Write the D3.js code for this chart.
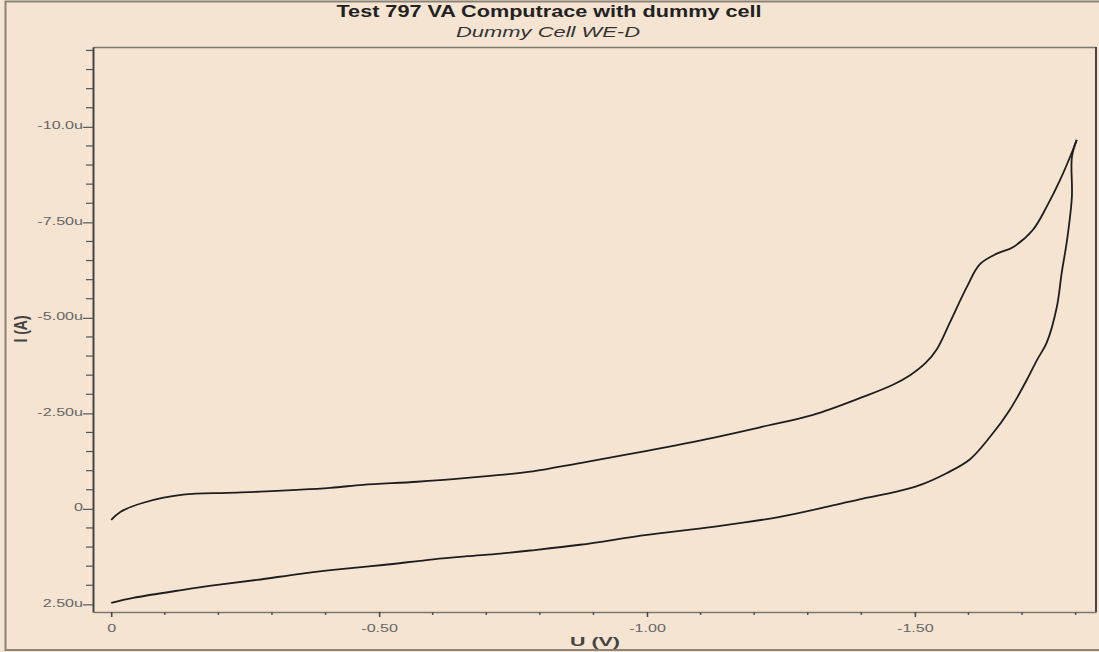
<!DOCTYPE html>
<html>
<head>
<meta charset="utf-8">
<script src="https://cdn.jsdelivr.net/npm/d3@7"></script>
<style>
  html, body { margin: 0; padding: 0; background: #f5e4d1; }
  svg { display: block; font-family: "Liberation Sans", Arial, sans-serif; }
</style>
</head>
<body>
<svg id="chart" width="1099" height="652"></svg>
<script>
// Cyclic voltammogram: forward scan (0 V → -1.80 V), then reverse scan back to 0 V.
// Potential in V, current in µA.
const forwardU = [0.00, -0.017, -0.060, -0.134, -0.216, -0.278, -0.409, -0.470, -0.571, -0.664,
  -0.726, -0.787, -0.875, -1.000, -1.123, -1.216, -1.310, -1.403, -1.459, -1.491,
  -1.520, -1.541, -1.565, -1.597, -1.621, -1.653, -1.683, -1.720, -1.746, -1.771, -1.795, -1.802];
const forwardI = [0.29, 0.08, -0.16, -0.37, -0.42, -0.45, -0.55, -0.63, -0.71, -0.81,
  -0.89, -0.98, -1.20, -1.52, -1.86, -2.15, -2.46, -2.93, -3.25, -3.50,
  -3.82, -4.18, -4.87, -5.81, -6.40, -6.68, -6.85, -7.30, -7.91, -8.61, -9.40, -9.66];

const reverseU = [-1.802, -1.793, -1.793, -1.784, -1.774, -1.765, -1.746, -1.728, -1.709, -1.677,
  -1.640, -1.603, -1.560, -1.509, -1.466, -1.403, -1.341, -1.248, -1.123, -1.000,
  -0.875, -0.782, -0.726, -0.664, -0.601, -0.507, -0.414, -0.353, -0.272, -0.198,
  -0.134, -0.041, 0.00];
const reverseI = [-9.66, -9.21, -8.17, -7.04, -6.18, -5.29, -4.35, -3.90, -3.38, -2.59,
  -1.88, -1.30, -0.94, -0.62, -0.45, -0.27, -0.07, 0.21, 0.47, 0.68,
  0.94, 1.09, 1.17, 1.24, 1.32, 1.47, 1.60, 1.70, 1.86, 1.99,
  2.12, 2.33, 2.46];

const xTickValues = [0, -0.5, -1.0, -1.5];
const xTickLabels = ["0", "-0.50", "-1.00", "-1.50"];
const yTickValues = [-10, -7.5, -5, -2.5, 0, 2.5];
const yTickLabels = ["-10.0u", "-7.50u", "-5.00u", "-2.50u", "0", "2.50u"];

const titleText = "Test 797 VA Computrace with dummy cell";
const subtitleText = "Dummy Cell WE-D";
const xLabel = "U (V)";
const yLabel = "I (A)";

const svg = d3.select("#chart");
const bg = "#f5e4d1";
const stretch = 1.4; // horizontal widening of the text glyphs

const plot = { left: 93, right: 1096, top: 47, bottom: 612 };

const x = d3.scaleLinear().domain([0.034, -1.838]).range([plot.left, plot.right]);
const y = d3.scaleLinear().domain([-12.09, 2.70]).range([plot.top, plot.bottom]);

// page background and outer frame
svg.append("rect").attr("width", 1099).attr("height", 652).attr("fill", bg);
svg.append("rect")
  .attr("x", 5.5).attr("y", 1.5).attr("width", 1100).attr("height", 648.5)
  .attr("fill", "none").attr("stroke", "#8c8478").attr("stroke-width", 2);

// titles
svg.append("text")
  .attr("x", 549).attr("y", 17).attr("text-anchor", "middle")
  .attr("font-size", 16).attr("font-weight", "bold").attr("fill", "#222")
  .attr("textLength", 425).attr("lengthAdjust", "spacingAndGlyphs")
  .text(titleText);
svg.append("text")
  .attr("x", 548).attr("y", 37).attr("text-anchor", "middle")
  .attr("font-size", 15).attr("font-style", "italic").attr("fill", "#333")
  .attr("textLength", 184).attr("lengthAdjust", "spacingAndGlyphs")
  .text(subtitleText);

// plot frame
svg.append("line").attr("x1", plot.left).attr("x2", plot.right)
  .attr("y1", plot.top + 0.5).attr("y2", plot.top + 0.5)
  .attr("stroke", "#7d776e").attr("stroke-width", 1.5);
svg.append("line").attr("x1", plot.right).attr("x2", plot.right)
  .attr("y1", plot.top).attr("y2", plot.bottom)
  .attr("stroke", "#444").attr("stroke-width", 2);

// y axis: major ticks with labels, minor ticks every 0.5 µA
const yMinor = d3.range(-12, 2.75, 0.5).filter(v => !yTickValues.some(t => Math.abs(t - v) < 1e-6));
const yAxis = d3.axisLeft(y)
  .tickValues(yTickValues)
  .tickFormat((d, i) => yTickLabels[i])
  .tickSize(10).tickSizeOuter(0);
const gy = svg.append("g").attr("transform", `translate(${plot.left},0)`).call(yAxis);
gy.select(".domain").attr("stroke", "#444").attr("stroke-width", 2);
gy.selectAll(".tick line").attr("stroke", "#555").attr("stroke-width", 1.2);
gy.selectAll(".tick text")
  .attr("x", 0).attr("dy", "0.15em")
  .attr("transform", `translate(-10,0) scale(${stretch},1)`)
  .attr("font-size", 11.5).attr("fill", "#666")
  .attr("font-family", "'Liberation Sans', Arial, sans-serif");
svg.append("g").selectAll("line").data(yMinor).join("line")
  .attr("x1", plot.left - 7).attr("x2", plot.left)
  .attr("y1", d => y(d)).attr("y2", d => y(d))
  .attr("stroke", "#555").attr("stroke-width", 1.2);

// x axis: major ticks with labels, minor ticks every 0.1 V
const xMinor = d3.range(0, 19).map(i => -i / 10).filter(v => !xTickValues.some(t => Math.abs(t - v) < 1e-6));
const xAxis = d3.axisBottom(x)
  .tickValues(xTickValues)
  .tickFormat((d, i) => xTickLabels[i])
  .tickSize(5).tickSizeOuter(0);
const gx = svg.append("g").attr("transform", `translate(0,${plot.bottom})`).call(xAxis);
gx.select(".domain").attr("stroke", "#7d776e").attr("stroke-width", 1.5);
gx.selectAll(".tick line").attr("stroke", "#444").attr("stroke-width", 1.5);
gx.selectAll(".tick text")
  .attr("y", 0).attr("dy", 0)
  .attr("transform", `translate(0,20) scale(${stretch},1)`)
  .attr("font-size", 11.5).attr("fill", "#666")
  .attr("font-family", "'Liberation Sans', Arial, sans-serif");
svg.append("g").selectAll("line").data(xMinor).join("line")
  .attr("x1", d => x(d)).attr("x2", d => x(d))
  .attr("y1", plot.bottom).attr("y2", plot.bottom + 3)
  .attr("stroke", "#555").attr("stroke-width", 1.5);

// axis titles
svg.append("text")
  .attr("x", 595).attr("y", 646).attr("text-anchor", "middle")
  .attr("font-size", 13).attr("font-weight", "bold").attr("fill", "#444")
  .attr("textLength", 50).attr("lengthAdjust", "spacingAndGlyphs")
  .text(xLabel);
svg.append("text")
  .attr("transform", `translate(27,329) scale(${stretch - 0.1},1) rotate(-90)`)
  .attr("text-anchor", "middle")
  .attr("font-size", 14).attr("font-weight", "bold").attr("fill", "#444")
  .text(yLabel);

// voltammogram trace
const line = d3.line()
  .x(d => x(d[0]))
  .y(d => y(d[1]))
  .curve(d3.curveCatmullRom.alpha(0.5));

const fwd = forwardU.map((u, i) => [u, forwardI[i]]);
const rev = reverseU.map((u, i) => [u, reverseI[i]]);

svg.selectAll("path.trace").data([fwd, rev]).join("path")
  .attr("class", "trace")
  .attr("d", line)
  .attr("fill", "none").attr("stroke", "#1e1e1e").attr("stroke-width", 1.8)
  .attr("stroke-linejoin", "round");
</script>
</body>
</html>
